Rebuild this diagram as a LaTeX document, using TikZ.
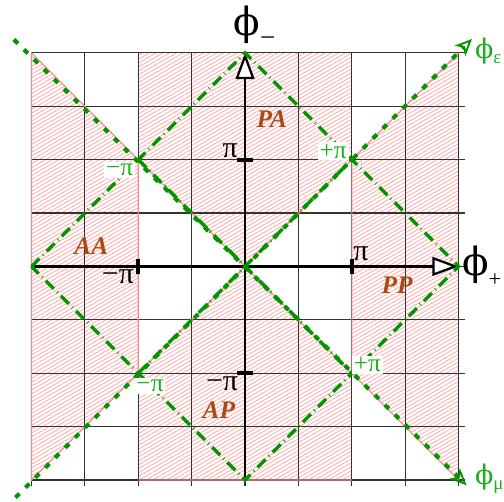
\documentclass[tikz,border=0pt]{standalone}
\usepackage{fontspec}
\setmainfont{Liberation Serif}
\newfontfamily\phifont{DejaVu Serif}
\usepackage{tikz}
\usetikzlibrary{arrows.meta, patterns.meta}
\definecolor{figG}{RGB}{0,150,0}
\definecolor{figGt}{RGB}{30,175,30}
\definecolor{figBr}{RGB}{170,75,20}
\definecolor{figR}{RGB}{245,135,135}
\definecolor{figH}{RGB}{255,170,170}
\tikzset{hatch/.style={pattern={Lines[angle=30,distance=1.8pt,line width=0.45pt]}, pattern color=figH},
  gridline/.style={black!80, line width=0.6pt},
  edgeline/.style={figR, line width=0.6pt},
  philine/.style={figG, line width=2.2pt, dash pattern=on 3pt off 4.5pt,
    -{Stealth[open, length=9pt, width=8pt, inset=2.5pt, line width=1pt]}},
  diagline/.style={figG, line width=1.8pt, dash pattern=on 6pt off 2.5pt on 0.4pt off 2.5pt},
  phiaxis/.style={line width=1.4pt, -{Triangle[open, length=14pt, width=10pt, fill=white, line width=1.2pt]}},
  pitick/.style={line width=2pt},
  regionlbl/.style={figBr, font=\fontsize{13.5}{15}\selectfont\bfseries\itshape},
  pilbl/.style={font=\fontsize{16}{18}\selectfont, inner sep=1pt},
  gpilbl/.style={figGt, fill=white, font=\fontsize{13.5}{15}\selectfont, inner sep=1pt}}

\begin{document}
\begin{tikzpicture}
\useasboundingbox (-4.59,-4.41) rectangle (4.85,4.99);
% hatched regions
\fill[hatch] (-4,4) -- (-2,2) -- (-2,-2) -- (-4,-4) -- cycle;
\fill[hatch] (4,4) -- (2,2) -- (2,-2) -- (4,-4) -- cycle;
\fill[hatch] (-2,4) -- (2,4) -- (2,2) -- (0,0) -- (-2,2) -- cycle;
\fill[hatch] (-2,-4) -- (2,-4) -- (2,-2) -- (0,0) -- (-2,-2) -- cycle;
% grid, 1 cell = pi/2
\draw[gridline] (-4,-4.12) grid (4.12,4);
% borders of the hatched regions
\draw[edgeline] (-4,4) -- (-2,2) -- (-2,-2) -- (-4,-4) -- cycle;
\draw[edgeline] (4,4) -- (2,2) -- (2,-2) -- (4,-4);
\draw[edgeline] (-2,2) -- (2,-2) (-2,-2) -- (2,2) (-2,-4) -- (2,-4);
% axes phi_+ and phi_-
\coordinate (O) at (0,0);
\coordinate (Xl) at (-4,0);
\coordinate (Xr) at (4,0);
\coordinate (Yb) at (0,-4);
\coordinate (Yt) at (0,4);
\draw[phiaxis] (Xl) -- (Xr);
\draw[phiaxis] (Yb) -- (Yt);
\foreach \t in {-2,2} {
  \draw[pitick] (\t,-0.14) -- (\t,0.14);
  \draw[pitick] (-0.15,\t) -- (0.15,\t);
}
\node[anchor=west, inner sep=0pt] (lblPlus) at (4.06,0.0) {\huge{\phifont ϕ}\raisebox{-6pt}{\large +}};
\node[anchor=west, inner sep=0pt] (lblMinus) at (-0.22,4.5) {\huge{\phifont ϕ}\raisebox{-6pt}{\Large −}};
\node[pilbl] (piR) at (2.17,0.23) {π};
\node[pilbl] (piL) at (-2.38,-0.2) {−π};
\node[pilbl] (piT) at (-0.28,2.16) {π};
\node[pilbl] (piB) at (-0.43,-2.2) {−π};
% diamond |phi_+|+|phi_-| = 2pi and inner diagonals
\coordinate (Dl) at (-4,0);
\coordinate (Dt) at (0,4);
\coordinate (Dr) at (4,0);
\coordinate (Db) at (0,-4);
\draw[diagline] (Dl) -- (Dt) -- (Dr) -- (Db) -- cycle;
\draw[diagline] (-2,-2) -- (2,2) (-2,2) -- (2,-2);
% phi_eps and phi_mu directions
\coordinate (Es) at (-4.3,-4.33);
\coordinate (Ee) at (4.25,4.26);
\coordinate (Ms) at (-4.33,4.25);
\coordinate (Me) at (4.15,-4.1);
\draw[philine] (Es) -- (Ee);
\draw[philine] (Ms) -- (Me);
\node[anchor=west, figGt, inner sep=0pt, font=\Large] (lblEps) at (4.3,4.04) {{\phifont ϕ}\raisebox{-3pt}{\normalsize ε}};
\node[anchor=west, figGt, inner sep=0pt, font=\Large] (lblMu) at (4.3,-3.98) {{\phifont ϕ}\raisebox{-3pt}{\normalsize μ}};
\node[gpilbl] (gpiTL) at (-2.35,1.81) {−π};
\node[gpilbl] (gpiTR) at (1.65,2.16) {+π};
\node[gpilbl] (gpiBL) at (-1.78,-2.24) {−π};
\node[gpilbl] (gpiBR) at (2.29,-1.84) {+π};
% regions
\node[regionlbl] (rPA) at (0.5,2.76) {PA};
\node[regionlbl] (rAA) at (-2.88,0.38) {AA};
\node[regionlbl] (rPP) at (2.85,-0.35) {PP};
\node[regionlbl] (rAP) at (-0.49,-2.69) {AP};
\end{tikzpicture}
\end{document}
